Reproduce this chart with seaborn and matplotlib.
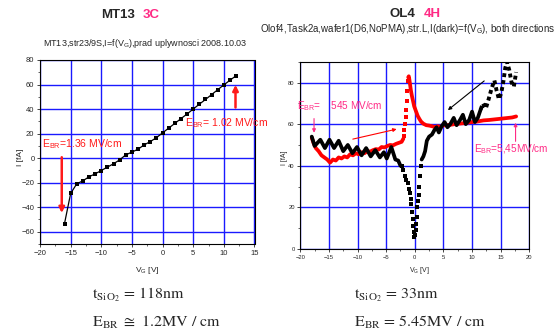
import matplotlib
matplotlib.use("Agg")
import matplotlib.pyplot as plt
import seaborn as sns
import numpy as np
from matplotlib.ticker import MultipleLocator

sns.set_style("ticks")
plt.rcParams['font.family'] = ['Liberation Sans', 'DejaVu Sans']
plt.rcParams['mathtext.fontset'] = 'custom'
plt.rcParams['mathtext.rm'] = 'Liberation Sans'
plt.rcParams['mathtext.it'] = 'Liberation Sans'

# ---------------- data: MT13 3C ----------------
vg_mt13 = [-16, -15, -14, -13, -12, -11, -10, -9, -8, -7, -6, -5, -4, -3, -2, -1,
           0, 1, 2, 3, 4, 5, 6, 7, 8, 9, 10, 11, 12]
i_mt13 = [-53.3, -28.8, -20.9, -18.5, -15.2, -12.8, -10.1, -7.3, -4.6, -1.4, 2.7, 4.9,
          7.3, 10.8, 13.5, 16.7, 20.6, 24.5, 28.3, 32.2, 36.0, 40.0, 44.0, 47.8, 51.8,
          55.8, 59.7, 63.5, 67.2]

# ---------------- data: OL4 4H ----------------
red_a_x = [-18.0, -17.7, -17.3, -16.8, -16.3, -15.8, -15.3, -14.8, -14.3, -13.8, -13.3,
           -12.8, -12.3, -11.8, -11.3, -10.8, -10.3, -9.8, -9.3, -8.8, -8.3, -7.8, -7.3,
           -6.8, -6.3, -5.8, -5.3, -4.8, -4.3, -3.8, -3.3, -2.8, -2.3, -2.0]
red_a_y = [53.5, 51.0, 48.5, 47.0, 45.0, 44.0, 43.0, 41.5, 43.0, 42.5, 44.0, 43.5, 44.5,
           44.0, 45.5, 45.0, 46.0, 45.5, 46.5, 46.0, 47.0, 46.8, 47.5, 48.0, 47.8, 49.0,
           48.8, 49.5, 50.0, 49.8, 50.5, 51.0, 51.5, 53.0]
red_b_x = [-1.9, -1.8, -1.7, -1.6, -1.5, -1.4, -1.3, -1.2]
red_b_y = [54.5, 57.0, 60.0, 63.5, 67.0, 71.0, 76.0, 80.5]
red_c_x = [-1.15, -1.05, -0.95, -0.85, -0.7, -0.5, -0.3, -0.1, 0.1, 0.3, 0.5, 0.8, 1.1,
           1.5, 2.0, 2.5, 3.0, 3.5, 4.0, 4.5, 5.0, 6.0, 7.0, 8.0, 9.0, 10.0, 11.0, 12.0,
           13.0, 14.0, 15.0, 16.0, 17.0, 17.7]
red_c_y = [82.5, 83.0, 81.5, 79.5, 76.5, 73.5, 71.0, 68.5, 67.0, 65.5, 64.0, 62.5, 61.2,
           60.2, 59.5, 59.3, 59.0, 58.6, 59.0, 58.7, 59.4, 59.6, 60.0, 60.3, 60.6, 61.0,
           61.3, 61.8, 62.0, 62.3, 62.6, 62.9, 63.2, 63.7]

blk_a_x = [-18.0, -17.5, -16.5, -15.7, -14.9, -14.1, -13.3, -12.5, -11.7, -10.9, -10.1,
           -9.3, -8.5, -7.7, -6.9, -6.1, -5.4, -4.9, -4.1, -3.4, -2.9, -2.5]
blk_a_y = [54.0, 49.5, 52.5, 48.5, 52.5, 48.5, 52.0, 47.0, 50.0, 46.0, 49.0, 45.0, 48.5,
           44.5, 47.5, 44.0, 46.5, 43.5, 49.0, 43.0, 42.5, 40.0]
blk_b_x = [-2.3, -2.0, -1.75, -1.5, -1.25, -1.0, -0.85, -0.7, -0.6, -0.5, -0.4, -0.3,
           -0.2, -0.1, 0.05, 0.15, 0.25, 0.35, 0.45, 0.55, 0.65, 0.75, 0.9, 1.05]
blk_b_y = [40.0, 38.0, 35.0, 33.0, 31.5, 29.0, 27.0, 24.0, 21.5, 18.0, 14.5, 11.0, 8.0,
           6.0, 6.5, 9.0, 12.0, 15.5, 20.0, 23.0, 26.0, 30.0, 35.0, 40.0]
blk_c_x = [1.2, 1.5, 1.8, 2.1, 2.5, 3.0, 3.4, 3.8, 4.2, 4.7, 5.2, 5.7, 6.2, 6.8, 7.3,
           7.9, 8.4, 8.9, 9.5, 10.0, 10.5, 11.0, 11.5]
blk_c_y = [43.0, 44.5, 47.0, 52.0, 54.0, 55.0, 57.0, 58.5, 56.0, 59.0, 61.0, 58.5, 60.0,
           63.0, 59.5, 62.0, 64.5, 60.0, 62.0, 66.0, 61.0, 63.0, 67.0]
blk_d_x = [11.5, 11.9, 12.4, 12.9, 13.4, 13.9, 14.3, 14.7, 15.1, 15.5, 15.8, 16.1, 16.5,
           16.9, 17.3, 17.7]
blk_d_y = [67.0, 70.0, 67.5, 72.0, 77.0, 81.0, 76.0, 72.0, 75.0, 81.0, 87.0, 90.0, 86.0,
           80.0, 78.0, 85.0]

PINK = '#ff2a85'
RED = '#ff1a1a'
GRID = '#1a1aff'

fig = plt.figure(figsize=(5.54, 3.34), dpi=100)
fig.patch.set_facecolor('white')

def style(ax, fs):
    ax.grid(True, color=GRID, lw=1.0)
    ax.set_axisbelow(True)
    for s in ax.spines.values():
        s.set_color('black')
        s.set_linewidth(0.8)
    ax.tick_params(which='major', direction='out', length=2.5, width=0.6, labelsize=fs, pad=1.5)
    ax.tick_params(which='minor', direction='out', length=1.5, width=0.5)
    ax.set_xlabel('')
    ax.set_ylabel('')

# ---------- left ----------
ax1 = fig.add_axes([40/554, 1-244/334, 214.5/554, 184/334])
sns.lineplot(x=vg_mt13, y=i_mt13, ax=ax1, color='black', lw=0.9, marker='s',
             markersize=3.5, markeredgewidth=0, sort=False)
ax1.set_xlim(-20, 15)
ax1.set_ylim(-70, 80)
ax1.xaxis.set_major_locator(MultipleLocator(5))
ax1.xaxis.set_minor_locator(MultipleLocator(2.5))
ax1.yaxis.set_major_locator(MultipleLocator(20))
ax1.yaxis.set_minor_locator(MultipleLocator(10))
style(ax1, 5.5)
ax1.set_yticks([-60, -40, -20, 0, 20, 40, 60, 80])
ax1.annotate('', xy=(-16.45, -47), xytext=(-16.45, 3),
             arrowprops=dict(arrowstyle='-|>', color=RED, lw=1.8, mutation_scale=8))
ax1.annotate('', xy=(11.9, 62), xytext=(11.9, 39),
             arrowprops=dict(arrowstyle='-|>', color=RED, lw=1.8, mutation_scale=8))
ax1.text(-19.6, 11.4, r'E$_{BR}$=1.36 MV/cm', color=RED, fontsize=7.5, va='center', ha='left')
ax1.text(3.6, 28.7, r'E$_{BR}$= 1.02 MV/cm', color=RED, fontsize=7.5, va='center', ha='left',
         clip_on=False)

# ---------- right ----------
ax2 = fig.add_axes([300.3/554, 1-249/334, 229/554, 187.3/334])
lw_d = 2.7
sns.lineplot(x=red_a_x, y=red_a_y, ax=ax2, color='red', lw=lw_d, sort=False)
sns.scatterplot(x=red_b_x, y=red_b_y, ax=ax2, color='red', marker='s', s=7, linewidth=0)
sns.lineplot(x=red_c_x, y=red_c_y, ax=ax2, color='red', lw=lw_d, sort=False)
sns.lineplot(x=blk_a_x, y=blk_a_y, ax=ax2, color='black', lw=lw_d, sort=False)
sns.scatterplot(x=blk_b_x, y=blk_b_y, ax=ax2, color='black', marker='s', s=7, linewidth=0)
sns.lineplot(x=blk_c_x, y=blk_c_y, ax=ax2, color='black', lw=lw_d, sort=False)
sns.lineplot(x=blk_d_x, y=blk_d_y, ax=ax2, color='black', lw=2.8, sort=False,
             linestyle=(0, (1.0, 0.8)))
ax2.set_xlim(-20, 20)
ax2.set_ylim(0, 90)
ax2.xaxis.set_major_locator(MultipleLocator(5))
ax2.xaxis.set_minor_locator(MultipleLocator(2.5))
ax2.yaxis.set_major_locator(MultipleLocator(20))
ax2.yaxis.set_minor_locator(MultipleLocator(10))
style(ax2, 4.2)
ax2.annotate('', xy=(-17.6, 54.5), xytext=(-17.6, 64),
             arrowprops=dict(arrowstyle='-|>', color=PINK, lw=0.8, mutation_scale=5))
ax2.annotate('', xy=(-2.7, 57.9), xytext=(-11.3, 52.5),
             arrowprops=dict(arrowstyle='-|>', color='red', lw=0.8, mutation_scale=5))
ax2.annotate('', xy=(5.4, 65.9), xytext=(12.5, 81.6),
             arrowprops=dict(arrowstyle='-|>', color='black', lw=0.8, mutation_scale=5))
ax2.annotate('', xy=(17.6, 62), xytext=(17.6, 50.4),
             arrowprops=dict(arrowstyle='-|>', color=PINK, lw=0.8, mutation_scale=5))
ax2.text(-20.6, 68.8, r'E$_{BR}$=    545 MV/cm', color=PINK, fontsize=7.2, va='center',
         ha='left', clip_on=False)
ax2.text(10.4, 48, r'E$_{BR}$=5,45MV/cm', color=PINK, fontsize=7.2, va='center',
         ha='left', clip_on=False)

# ---------- figure texts ----------
def fx(px):
    return px / 554
def fy(py):
    return 1 - py / 334

fig.text(fx(101), fy(15), 'MT13', fontsize=9.5, weight='bold', ha='left', va='center')
fig.text(fx(143), fy(15), '3C', fontsize=9.5, weight='bold', color=PINK, ha='left', va='center')
fig.text(fx(145), fy(43), r'MT13,str23/9S,I=f(V$_G$),prad uplywnosci 2008.10.03',
         fontsize=6.5, ha='center', va='center')
fig.text(fx(390), fy(14), 'OL4', fontsize=9.5, weight='bold', ha='left', va='center')
fig.text(fx(424), fy(14), '4H', fontsize=9.5, weight='bold', color=PINK, ha='left', va='center')
fig.text(fx(260), fy(28.5), r'Olof4,Task2a,wafer1(D6,NoPMA),str.L,I(dark)=f(V$_G$), both directions',
         fontsize=7.0, ha='left', va='center')

fig.text(fx(20), fy(157), 'I [fA]', fontsize=6, rotation=90, ha='center', va='center')
fig.text(fx(285), fy(158), 'I [fA]', fontsize=5, rotation=90, ha='center', va='center')
fig.text(fx(147), fy(271), r'V$_G$ [V]', fontsize=6, ha='center', va='center')
fig.text(fx(419), fy(271), r'V$_G$ [V]', fontsize=5, ha='center', va='center')

serif = dict(family='STIXGeneral', fontsize=11.5, ha='left', va='center')
plt.rcParams['mathtext.fontset'] = 'stix'
fig.text(fx(92), fy(295), r't$_{\mathrm{SiO_2}}$ = 118nm', math_fontfamily='stix', **serif)
fig.text(fx(92), fy(322), r'E$_{\mathrm{BR}}$ $\cong$ 1.2MV / cm', math_fontfamily='stix', **serif)
fig.text(fx(354), fy(295), r't$_{\mathrm{SiO_2}}$ = 33nm', math_fontfamily='stix', **serif)
fig.text(fx(354), fy(322), r'E$_{\mathrm{BR}}$ = 5.45MV / cm', math_fontfamily='stix', **serif)

fig.savefig('out.png', dpi=100, facecolor='white')
